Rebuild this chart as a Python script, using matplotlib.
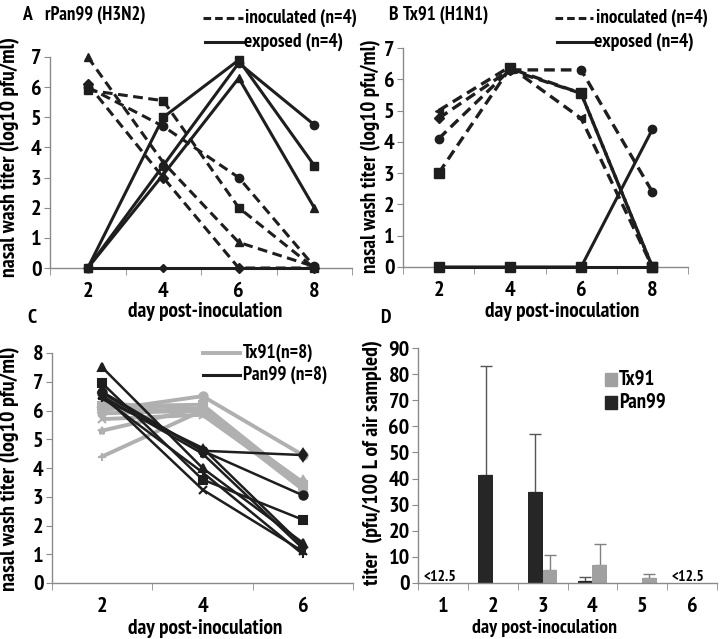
import matplotlib
matplotlib.use('Agg')
import matplotlib.pyplot as plt
from matplotlib.lines import Line2D
from matplotlib.patches import Rectangle
from matplotlib import font_manager as fm

W, H = 720, 639
names = {f.name for f in fm.fontManager.ttflist}
cands = ['Liberation Sans Narrow', 'Arial Narrow', 'PT Sans Narrow',
         'Archivo Narrow', 'Roboto Condensed', 'Liberation Sans', 'DejaVu Sans']
fam = [f for f in cands if f in names]
plt.rcParams['font.family'] = fam[:1] + ['DejaVu Sans']
plt.rcParams['font.weight'] = 'bold'

# ---------------- data ----------------
days_ab = [2, 4, 6, 8]
# Panel A: rPan99 (H3N2)
a_inoc_tri = [7.0, 3.5, 0.85, 0.05]
a_inoc_sq = [5.9, 5.55, 2.0, 0.0]
a_inoc_cir = [6.0, 4.7, 3.0, 0.05]
a_inoc_dia = [6.1, 3.0, 0.0, 0.0]
a_exp_sq = [0.0, 5.0, 6.9, 3.4]
a_exp_cir = [0.0, 3.4, 6.8, 4.75]
a_exp_tri = [0.0, 3.1, 6.3, 2.0]
a_exp_dia = [0.0, 0.0, 0.0, 0.0]
# Panel B: Tx91 (H1N1)
b_inoc_tri = [5.0, 6.4, 4.75, 0.0]
b_inoc_dia = [4.75, 6.3, 5.55, 0.0]
b_inoc_cir = [4.1, 6.3, 6.3, 2.4]
b_inoc_sq = [3.0, 6.35, 5.55, 0.0]
b_exp_sq = [0.0, 0.0, 0.0, 0.0]
b_exp_cir = [0.0, 0.0, 0.0, 4.4]

# Panel C
days_c = [2, 4, 6]
c_tx91 = [
    [6.25, 6.05, 3.3],
    [6.15, 6.2, 3.4],
    [6.0, 6.5, 4.45],
    [5.9, 6.0, 3.5],
    [5.7, 5.85, 3.35],
    [5.3, 6.1, 3.45],
    [4.4, 6.0, 3.3],
    [6.1, 5.95, 3.25],
]
c_pan99 = [
    [7.5, 4.0, 1.4],
    [6.95, 3.6, 2.2],
    [6.65, 4.6, 3.05],
    [6.6, 4.6, 4.45],
    [6.55, 3.25, 1.1],
    [6.5, 4.5, 1.2],
    [6.45, 3.85, 1.0],
    [6.4, 4.7, 1.3],
]
c_markers = ['^', 's', 'o', 'd', 'x', '*', '+', '_']

# Panel D
days_d = [1, 2, 3, 4, 5, 6]
d_pan99 = [0, 41.5, 35.0, 0.8, 0, 0]
d_pan99_err = [0, 41.5, 22.2, 1.4, 0, 0]
d_tx91 = [0, 0, 4.8, 7.0, 2.0, 0]
d_tx91_err = [0, 0, 6.0, 8.0, 1.3, 0]

# ---------------- helpers ----------------
fig = plt.figure(figsize=(W / 100, H / 100), dpi=100)
renderer = fig.canvas.get_renderer()


def rect(l, t, r, b):
    return [l / W, 1 - b / H, (r - l) / W, (b - t) / H]


def fx(x):
    return x / W


def fy(y):
    return 1 - y / H


def txt(x, y, s, size=13, ha='left', va='center', rot=0, fit=None,
        maxsize=17):
    t = fig.text(fx(x), fy(y), s, fontsize=size, ha=ha, va=va, rotation=rot,
                 fontweight='bold')
    if fit:
        ext = t.get_window_extent(renderer)
        cur = ext.height if rot == 90 else ext.width
        t.set_fontsize(min(maxsize, size * fit / cur))
    return t


def fline(x0, x1, y, color, lw, ls='-'):
    fig.add_artist(Line2D([fx(x0), fx(x1)], [fy(y), fy(y)], color=color,
                          lw=lw, ls=ls, transform=fig.transFigure))


AX = '#8a8a8a'
TS = 16


def style(ax, xlim, ylim, yticks, xpos, xlabels, minor):
    ax.set_xlim(*xlim)
    ax.set_ylim(*ylim)
    for s in ['top', 'right']:
        ax.spines[s].set_visible(False)
    for s in ['left', 'bottom']:
        ax.spines[s].set_color(AX)
        ax.spines[s].set_linewidth(1)
    ax.set_yticks(yticks)
    ax.tick_params(axis='y', direction='out', length=4, color=AX, pad=2,
                   labelsize=TS)
    ax.set_xticks(xpos)
    ax.set_xticklabels(xlabels)
    ax.tick_params(axis='x', which='major', length=0, pad=10, labelsize=TS)
    ax.set_xticks(minor, minor=True)
    ax.tick_params(axis='x', which='minor', direction='out', length=5,
                   color=AX)
    for lab in ax.get_xticklabels() + ax.get_yticklabels():
        lab.set_fontweight('bold')


DK = '#1e1e1e'
DASH = (0, (3.2, 1.8))

# ---------------- Panel A ----------------
axA = fig.add_axes(rect(50, 57, 352, 268))
style(axA, (1, 9), (0, 7), range(0, 8), days_ab, ['2', '4', '6', '8'],
      [1, 3, 5, 7, 9])
for ys, m, ms in [(a_inoc_tri, '^', 6), (a_inoc_sq, 's', 6),
                  (a_inoc_cir, 'o', 6), (a_inoc_dia, 'D', 5)]:
    axA.plot(days_ab, ys, color=DK, lw=2.2, ls=DASH, marker=m, ms=ms,
             clip_on=False, zorder=3)
for ys, m, ms in [(a_exp_sq, 's', 6), (a_exp_cir, 'o', 6),
                  (a_exp_tri, '^', 6), (a_exp_dia, 'D', 4)]:
    axA.plot(days_ab, ys, color=DK, lw=2.2, ls='-', marker=m, ms=ms,
             clip_on=False, zorder=3)

# ---------------- Panel B ----------------
axB = fig.add_axes(rect(403, 48, 688, 267))
style(axB, (1, 9), (0, 7), range(0, 8), days_ab, ['2', '4', '6', '8'],
      [1, 3, 5, 7, 9])
for ys, m, ms in [(b_inoc_tri, '<', 6), (b_inoc_dia, 'D', 5),
                  (b_inoc_cir, 'o', 6), (b_inoc_sq, 's', 7)]:
    axB.plot(days_ab, ys, color=DK, lw=2.4, ls=DASH, marker=m, ms=ms,
             clip_on=False, zorder=3)
for ys, m, ms in [(b_exp_sq, 's', 7), (b_exp_cir, 'o', 6)]:
    axB.plot(days_ab, ys, color=DK, lw=2.2, ls='-', marker=m, ms=ms,
             clip_on=False, zorder=3)

# ---------------- Panel C ----------------
axC = fig.add_axes(rect(52, 353, 353, 583))
style(axC, (1, 7), (0, 8), range(0, 9), days_c, ['2', '4', '6'],
      [1, 3, 5, 7])
GR = '#b0b0b0'
for ys, m in zip(c_tx91, c_markers):
    axC.plot(days_c, ys, color=GR, lw=2.8, marker=m, ms=6, mew=1.5,
             clip_on=False, zorder=2)
for ys, m in zip(c_pan99, c_markers):
    axC.plot(days_c, ys, color=DK, lw=1.8, marker=m, ms=6, mew=1.5,
             clip_on=False, zorder=3)

# ---------------- Panel D ----------------
axD = fig.add_axes(rect(418, 348, 717, 583))
style(axD, (0.5, 6.5), (0, 90), range(0, 100, 10), days_d,
      [str(d) for d in days_d], [0.5, 1.5, 2.5, 3.5, 4.5, 5.5, 6.5])
bw = 0.29
TX = '#a0a0a0'
pan_x = [d - bw / 2 for d in days_d]
tx_x = [d + bw / 2 for d in days_d]
axD.bar(pan_x, d_pan99, width=bw, color='#262626', zorder=2)
axD.bar(tx_x, d_tx91, width=bw, color=TX, zorder=2)
for x, v, e in zip(pan_x, d_pan99, d_pan99_err):
    if v > 0:
        axD.errorbar([x], [v], yerr=[[0], [e]], fmt='none', ecolor='#555555',
                     elinewidth=1, capsize=4, capthick=1, zorder=1)
for x, v, e in zip(tx_x, d_tx91, d_tx91_err):
    if v > 0:
        axD.errorbar([x], [v], yerr=[[0], [e]], fmt='none', ecolor='#808080',
                     elinewidth=1, capsize=4, capthick=1, zorder=1)
t1 = txt(423, 577, '<12.5', 12, fit=33)
txt(672, 577, '<12.5', t1.get_fontsize())

# ---------------- texts ----------------
txt(22, 15, 'A', 14)
txt(45, 15, 'rPan99 (H3N2)', 14, fit=100)
txt(388, 15, 'B', 14)
txt(403, 15, 'Tx91 (H1N1)', 14, fit=85)
txt(27, 318, 'C', 14)
txt(380, 318, 'D', 14)

LS = 15
ylab = 'nasal wash titer (log10 pfu/ml)'
txt(10, 157, ylab, LS, ha='center', rot=90, fit=240)
txt(371, 156, ylab, LS, ha='center', rot=90, fit=235)
txt(10, 469, ylab, LS, ha='center', rot=90, fit=245)
txt(373, 463, 'titer  (pfu/100 L of air sampled)', LS, ha='center', rot=90,
    fit=247)

xlab = 'day post-inoculation'
txt(205, 312, xlab, LS, ha='center', fit=155)
txt(562, 312, xlab, LS, ha='center', fit=155)
txt(205, 628, xlab, LS, ha='center', fit=155)
txt(545, 628, xlab, LS, ha='center', fit=145)

GS = 15
# legends A / B
fline(203, 243, 18, DK, 2.2, (0, (2.5, 1.3)))
txt(245, 18, 'inoculated (n=4)', GS, fit=112)
fline(205, 243, 42, DK, 2.2)
txt(244, 42, 'exposed (n=4)', GS, fit=99)
fline(555, 593, 18, DK, 2.2, (0, (2.5, 1.3)))
txt(596, 18, 'inoculated (n=4)', GS, fit=112)
fline(557, 593, 42, DK, 2.2)
txt(594, 42, 'exposed (n=4)', GS, fit=100)

# legend C
fline(203, 240, 353, GR, 2.8)
fline(203, 240, 375, DK, 2.2)
tc = txt(243, 375, 'Pan99 (n=8)', GS, fit=84)
txt(243, 353, 'Tx91(n=8)', tc.get_fontsize())

# legend D
fig.add_artist(Rectangle((fx(605), fy(386)), 12 / W, 13 / H, color=TX,
                         transform=fig.transFigure))
fig.add_artist(Rectangle((fx(605), fy(409)), 12 / W, 13 / H, color='#262626',
                         transform=fig.transFigure))
td = txt(619, 402, 'Pan99', GS, fit=47)
txt(619, 379, 'Tx91', td.get_fontsize())

fig.savefig('out.png', dpi=100)
